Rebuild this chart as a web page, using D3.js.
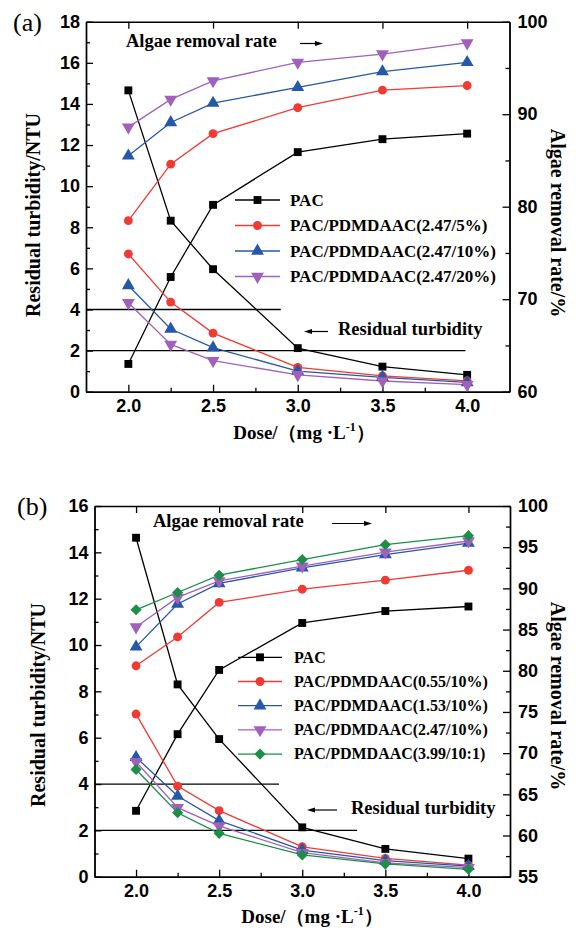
<!DOCTYPE html>
<html><head><meta charset="utf-8">
<script src="https://cdn.jsdelivr.net/npm/d3@7"></script>
<style>body{margin:0;background:#fff} svg{display:block}</style>
</head><body>
<svg id="chart" width="576" height="930"></svg>
<script>
// ---------- DATA ----------
const doses = [2.0, 2.25, 2.5, 3.0, 3.5, 4.0];
const xMajorTicks = [2.0, 2.5, 3.0, 3.5, 4.0];
const xMinorTicks = [2.25, 2.75, 3.25, 3.75];

// Panel (a)
const namesA = ["PAC", "PAC/PDMDAAC(2.47/5%)", "PAC/PDMDAAC(2.47/10%)", "PAC/PDMDAAC(2.47/20%)"];
const turbA_PAC = [14.66, 8.32, 5.96, 2.12, 1.22, 0.82];
const turbA_5   = [6.70, 4.36, 2.85, 1.18, 0.77, 0.53];
const turbA_10  = [5.17, 3.05, 2.14, 1.00, 0.70, 0.45];
const turbA_20  = [4.33, 2.30, 1.51, 0.82, 0.52, 0.34];
const algaeA_PAC = [63.0, 72.4, 80.2, 85.9, 87.3, 87.9];
const algaeA_5   = [78.5, 84.6, 87.9, 90.7, 92.6, 93.1];
const algaeA_10  = [85.5, 89.1, 91.2, 92.9, 94.6, 95.6];
const algaeA_20  = [88.6, 91.6, 93.6, 95.6, 96.5, 97.7];
const leftTicksA = [0, 2, 4, 6, 8, 10, 12, 14, 16, 18];
const rightTicksA = [60, 70, 80, 90, 100];
const refLinesA = [{y: 4, x0: 1.75, x1: 2.9}, {y: 2, x0: 1.75, x1: 3.99}];

// Panel (b)
const namesB = ["PAC", "PAC/PDMDAAC(0.55/10%)", "PAC/PDMDAAC(1.53/10%)", "PAC/PDMDAAC(2.47/10%)", "PAC/PDMDAAC(3.99/10:1)"];
const turbB_PAC = [14.63, 8.30, 5.94, 2.13, 1.20, 0.78];
const turbB_055 = [7.02, 3.91, 2.85, 1.29, 0.79, 0.50];
const turbB_153 = [5.15, 3.48, 2.42, 1.15, 0.69, 0.46];
const turbB_247 = [4.96, 2.98, 2.19, 1.04, 0.60, 0.39];
const turbB_399 = [4.63, 2.76, 1.87, 0.94, 0.55, 0.32];
const algaeB_PAC = [63.0, 72.3, 80.1, 85.8, 87.25, 87.8];
const algaeB_055 = [80.6, 84.1, 88.3, 89.9, 91.0, 92.2];
const algaeB_153 = [82.9, 88.1, 90.6, 92.5, 94.1, 95.5];
const algaeB_247 = [85.3, 88.9, 90.9, 92.7, 94.4, 95.75];
const algaeB_399 = [87.4, 89.5, 91.6, 93.5, 95.3, 96.4];
const leftTicksB = [0, 2, 4, 6, 8, 10, 12, 14, 16];
const rightTicksB = [55, 60, 65, 70, 75, 80, 85, 90, 95, 100];
const refLinesB = [{y: 4, x0: 1.75, x1: 2.86}, {y: 2, x0: 1.75, x1: 3.33}];

// ---------- STYLE ----------
const COL = {black: "#000000", red: "#f03a34", blue: "#2558a8", purple: "#a060bc", green: "#1d8e48"};
const SANS = "'Liberation Sans', Arial, sans-serif";
const SERIF = "'Liberation Serif', 'Times New Roman', serif";

const symSquare = d3.symbol().type(d3.symbolSquare).size(62)();
const symCircle = d3.symbol().type(d3.symbolCircle).size(62)();
const symTri = d3.symbol().type(d3.symbolTriangle).size(72)();
const symDiamond = d3.symbol().type(d3.symbolSquare).size(62)();
const markers = {
  square: {path: symSquare, rot: 0},
  circle: {path: symCircle, rot: 0},
  up: {path: symTri, rot: 0},
  down: {path: symTri, rot: 180},
  diamond: {path: symDiamond, rot: 45}
};

const svg = d3.select("#chart");

function drawPanel(p) {
  const g = svg.append("g");
  const x = d3.scaleLinear().domain([1.75, 4.25]).range([p.left, p.right]);
  const yL = d3.scaleLinear().domain(p.leftDomain).range([p.bottom, p.top]);
  const yR = d3.scaleLinear().domain(p.rightDomain).range([p.bottom, p.top]);

  const styleAxis = sel => {
    sel.selectAll("path.domain").attr("stroke", "#000").attr("stroke-width", 1.4);
    sel.selectAll(".tick line").attr("stroke", "#000").attr("stroke-width", 1.3);
    sel.selectAll("text").attr("font-family", SANS).attr("font-weight", "bold")
      .attr("font-size", 18).attr("fill", "#000");
  };
  g.append("g").attr("transform", `translate(0,${p.bottom})`)
    .call(d3.axisBottom(x).tickValues(xMajorTicks).tickSize(-7).tickSizeOuter(0).tickPadding(8).tickFormat(d3.format(".1f")))
    .call(styleAxis);
  g.append("g").attr("transform", `translate(0,${p.bottom})`)
    .call(d3.axisBottom(x).tickValues(xMinorTicks).tickSize(-4).tickSizeOuter(0).tickFormat(""))
    .call(styleAxis);
  g.append("g").attr("transform", `translate(0,${p.top})`)
    .call(d3.axisTop(x).tickValues(xMajorTicks).tickSize(-7).tickSizeOuter(0).tickFormat(""))
    .call(styleAxis);
  g.append("g").attr("transform", `translate(${p.left},0)`)
    .call(d3.axisLeft(yL).tickValues(p.leftTicks).tickSize(-7).tickSizeOuter(0).tickPadding(6).tickFormat(d3.format("d")))
    .call(styleAxis);
  g.append("g").attr("transform", `translate(${p.left},0)`)
    .call(d3.axisLeft(yL).tickValues(d3.range(p.leftDomain[0] + 1, p.leftDomain[1], 2)).tickSize(-4).tickSizeOuter(0).tickFormat(""))
    .call(styleAxis);
  g.append("g").attr("transform", `translate(${p.right},0)`)
    .call(d3.axisRight(yR).tickValues(p.rightTicks).tickSize(-7).tickSizeOuter(0).tickPadding(8).tickFormat(d3.format("d")))
    .call(styleAxis);
  g.append("g").attr("transform", `translate(${p.right},0)`)
    .call(d3.axisRight(yR).tickValues(p.rightMinor).tickSize(-4).tickSizeOuter(0).tickFormat(""))
    .call(styleAxis);

  g.selectAll("line.ref").data(p.refLines).join("line").attr("class", "ref")
    .attr("x1", d => x(d.x0)).attr("x2", d => x(d.x1))
    .attr("y1", d => yL(d.y)).attr("y2", d => yL(d.y))
    .attr("stroke", "#000").attr("stroke-width", 1.3);

  const lineL = d3.line().x((d, i) => x(doses[i])).y(d => yL(d));
  const lineR = d3.line().x((d, i) => x(doses[i])).y(d => yR(d));
  p.series.forEach(s => {
    g.append("path").attr("d", lineL(s.turb)).attr("fill", "none").attr("stroke", s.color).attr("stroke-width", 1.3);
    g.append("path").attr("d", lineR(s.algae)).attr("fill", "none").attr("stroke", s.color).attr("stroke-width", 1.3);
  });
  p.series.forEach(s => {
    const m = markers[s.marker];
    const pts = doses.map((d, i) => [x(d), yL(s.turb[i])]).concat(doses.map((d, i) => [x(d), yR(s.algae[i])]));
    g.append("g").selectAll("path").data(pts).join("path")
      .attr("d", m.path).attr("fill", s.color)
      .attr("transform", d => `translate(${d[0]},${d[1]}) rotate(${m.rot})`);
  });

  const lg = g.append("g");
  p.series.forEach((s, i) => {
    const yy = p.legend.y0 + i * p.legend.dy;
    const m = markers[s.marker];
    lg.append("line").attr("x1", p.legend.x0).attr("x2", p.legend.x1).attr("y1", yy).attr("y2", yy)
      .attr("stroke", s.color).attr("stroke-width", 1.3);
    lg.append("path").attr("d", m.path).attr("fill", s.color)
      .attr("transform", `translate(${(p.legend.x0 + p.legend.x1) / 2},${yy}) rotate(${m.rot})`);
    lg.append("text").attr("x", p.legend.tx).attr("y", yy + p.legend.fs * 0.33)
      .attr("font-family", SERIF).attr("font-weight", "bold").attr("font-size", p.legend.fs)
      .text(s.name);
  });

  p.notes.forEach(n => {
    g.append("text").attr("x", n.tx).attr("y", n.ty)
      .attr("font-family", SERIF).attr("font-weight", "bold").attr("font-size", 18.5)
      .text(n.text);
    const dir = Math.sign(n.ax1 - n.ax0);
    g.append("line").attr("x1", n.ax0).attr("x2", n.ax1 - dir * 6).attr("y1", n.ay).attr("y2", n.ay)
      .attr("stroke", "#000").attr("stroke-width", 1.2);
    g.append("path")
      .attr("d", `M${n.ax1},${n.ay} L${n.ax1 - dir * 8},${n.ay - 2.6} L${n.ax1 - dir * 8},${n.ay + 2.6} Z`)
      .attr("fill", "#000");
  });

  g.append("text").attr("x", p.tag.x).attr("y", p.tag.y)
    .attr("font-family", SERIF).attr("font-size", 26).text(p.tag.text);

  g.append("text").attr("transform", `translate(${p.yTitleL.x},${p.yTitleL.y}) rotate(-90)`)
    .attr("text-anchor", "middle").attr("font-family", SERIF).attr("font-weight", "bold").attr("font-size", 20)
    .text("Residual turbidity/NTU");
  g.append("text").attr("transform", `translate(${p.yTitleR.x},${p.yTitleR.y}) rotate(90)`)
    .attr("text-anchor", "middle").attr("font-family", SERIF).attr("font-weight", "bold").attr("font-size", 20)
    .text("Algae removal rate/%");
  const xt = g.append("text").attr("x", p.xTitle.x).attr("y", p.xTitle.y)
    .attr("text-anchor", "middle").attr("font-family", SERIF).attr("font-weight", "bold").attr("font-size", 19);
  xt.append("tspan").text("Dose/（mg ·L");
  xt.append("tspan").attr("dy", -8).attr("font-size", 12).text("-1");
  xt.append("tspan").attr("dy", 8).text("）");
}

drawPanel({
  left: 86, right: 509.5, top: 21.7, bottom: 391.7,
  leftDomain: [0, 18], rightDomain: [60, 100],
  leftTicks: leftTicksA, rightTicks: rightTicksA, rightMinor: [65, 75, 85, 95],
  refLines: refLinesA,
  series: [
    {name: namesA[0], color: COL.black, marker: "square", turb: turbA_PAC, algae: algaeA_PAC},
    {name: namesA[1], color: COL.red, marker: "circle", turb: turbA_5, algae: algaeA_5},
    {name: namesA[2], color: COL.blue, marker: "up", turb: turbA_10, algae: algaeA_10},
    {name: namesA[3], color: COL.purple, marker: "down", turb: turbA_20, algae: algaeA_20}
  ],
  legend: {x0: 235, x1: 280, tx: 290, y0: 200, dy: 25.5, fs: 17},
  notes: [
    {text: "Algae removal rate", tx: 126, ty: 47, ax0: 300, ax1: 323, ay: 43.5},
    {text: "Residual turbidity", tx: 338, ty: 335, ax0: 328, ax1: 304, ay: 331.5}
  ],
  tag: {text: "(a)", x: 13, y: 31},
  yTitleL: {x: 40, y: 215}, yTitleR: {x: 551, y: 223},
  xTitle: {x: 304, y: 439}
});

drawPanel({
  left: 94.5, right: 510, top: 506, bottom: 876.7,
  leftDomain: [0, 16], rightDomain: [55, 100],
  leftTicks: leftTicksB, rightTicks: rightTicksB, rightMinor: d3.range(57.5, 100, 5),
  refLines: refLinesB,
  series: [
    {name: namesB[0], color: COL.black, marker: "square", turb: turbB_PAC, algae: algaeB_PAC},
    {name: namesB[1], color: COL.red, marker: "circle", turb: turbB_055, algae: algaeB_055},
    {name: namesB[2], color: COL.blue, marker: "up", turb: turbB_153, algae: algaeB_153},
    {name: namesB[3], color: COL.purple, marker: "down", turb: turbB_247, algae: algaeB_247},
    {name: namesB[4], color: COL.green, marker: "diamond", turb: turbB_399, algae: algaeB_399}
  ],
  legend: {x0: 238, x1: 282, tx: 294, y0: 657.3, dy: 24.2, fs: 16},
  notes: [
    {text: "Algae removal rate", tx: 153, ty: 527, ax0: 332, ax1: 372, ay: 523.5},
    {text: "Residual turbidity", tx: 351, ty: 813.5, ax0: 337, ax1: 307, ay: 810}
  ],
  tag: {text: "(b)", x: 17, y: 515},
  yTitleL: {x: 45, y: 705}, yTitleR: {x: 551, y: 696},
  xTitle: {x: 312, y: 923}
});
</script>
</body></html>
